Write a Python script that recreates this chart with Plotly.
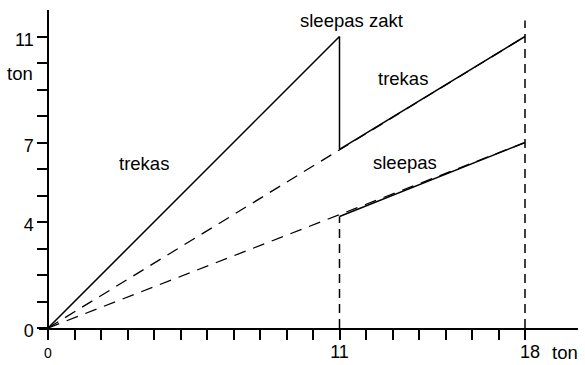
import plotly.graph_objects as go

# Data
trekas_x = [0, 11, 11, 18]
trekas_y = [0, 11, 6.74, 11]
sleepas_x = [11, 18]
sleepas_y = [4.21, 7]
trekas_dash_x = [0, 18]
trekas_dash_y = [0, 11]
sleepas_dash_x = [0, 18]
sleepas_dash_y = [0, 7]
vline11_x = [11, 11]
vline11_y = [0, 4.21]
vline18_x = [18, 18]
vline18_y = [0, 11.6]

x_tickvals = list(range(0, 19))
x_ticklabels = {0: '<span style="font-size:14px">0</span>', 11: "11", 18: "\u00a0\u00a018"}
x_ticktext = [x_ticklabels.get(v, "") for v in x_tickvals]
y_tickvals = list(range(0, 12))
y_ticktext = [str(v) if v in (0, 4, 7, 11) else "" for v in y_tickvals]

labels = [
    ("sleepas zakt", 11.45, 11.62),
    ("trekas", 13.38, 9.40),
    ("trekas", 3.61, 6.21),
    ("sleepas", 13.46, 6.25),
]

XMIN, XMAX = -0.34, 20
YMIN, YMAX = 0, 12
FONT = "Liberation Sans, Arial, sans-serif"
solid = dict(color="black", width=1.5)
dashed = dict(color="black", width=1.3, dash="12px,8px")

def px(x):
    return (x - XMIN) / (XMAX - XMIN)

def py(y):
    return (y - YMIN) / (YMAX - YMIN)

fig = go.Figure()
fig.add_trace(go.Scatter(x=trekas_dash_x, y=trekas_dash_y, mode="lines", line=dashed))
fig.add_trace(go.Scatter(x=sleepas_dash_x, y=sleepas_dash_y, mode="lines", line=dashed))
fig.add_trace(go.Scatter(x=vline11_x, y=vline11_y, mode="lines", line=dict(color="black", width=1.5, dash="9px,6px")))
fig.add_trace(go.Scatter(x=vline18_x, y=vline18_y, mode="lines", line=dict(color="black", width=1.5, dash="9px,6px")))
fig.add_trace(go.Scatter(x=trekas_x, y=trekas_y, mode="lines", line=solid))
fig.add_trace(go.Scatter(x=sleepas_x, y=sleepas_y, mode="lines", line=solid))

for txt, x, y in labels:
    fig.add_annotation(x=x, y=y, text=txt, showarrow=False, xanchor="center", yanchor="middle",
                       font=dict(family=FONT, size=18.5, color="black"))

fig.add_annotation(x=px(19.5), y=py(-0.92), xref="paper", yref="paper", text="ton", showarrow=False,
                   xanchor="center", yanchor="middle", font=dict(family=FONT, size=18.5, color="black"))
fig.add_annotation(x=px(-1.05), y=py(9.6), xref="paper", yref="paper", text="ton", showarrow=False,
                   xanchor="center", yanchor="middle", font=dict(family=FONT, size=18.5, color="black"))

fig.update_layout(
    width=585, height=365,
    margin=dict(l=39, r=7, t=10, b=37, autoexpand=False),
    paper_bgcolor="white", plot_bgcolor="white",
    showlegend=False,
    font=dict(family=FONT, color="black"),
    xaxis=dict(range=[XMIN, XMAX], showgrid=False, zeroline=False, showline=True, automargin=False,
               linecolor="black", linewidth=1.5, ticks="outside", ticklen=10, tickwidth=1.5,
               tickcolor="black", tickvals=x_tickvals, ticktext=x_ticktext,
               ticklabelstandoff=-3,
               tickfont=dict(family=FONT, size=18, color="black"), fixedrange=True),
    yaxis=dict(range=[YMIN, YMAX], showgrid=False, zeroline=False, showline=True, automargin=False,
               anchor="free", position=px(0),
               linecolor="black", linewidth=1.5, ticks="outside", ticklen=10, tickwidth=1.5,
               tickcolor="black", tickvals=y_tickvals, ticktext=y_ticktext,
               ticklabelshift=3, ticklabelstandoff=0,
               tickfont=dict(family=FONT, size=18, color="black"), fixedrange=True),
)

fig.write_html("out.html", config={"displayModeBar": False},
               post_script="document.body.style.margin='0';document.body.style.overflow='hidden';")
